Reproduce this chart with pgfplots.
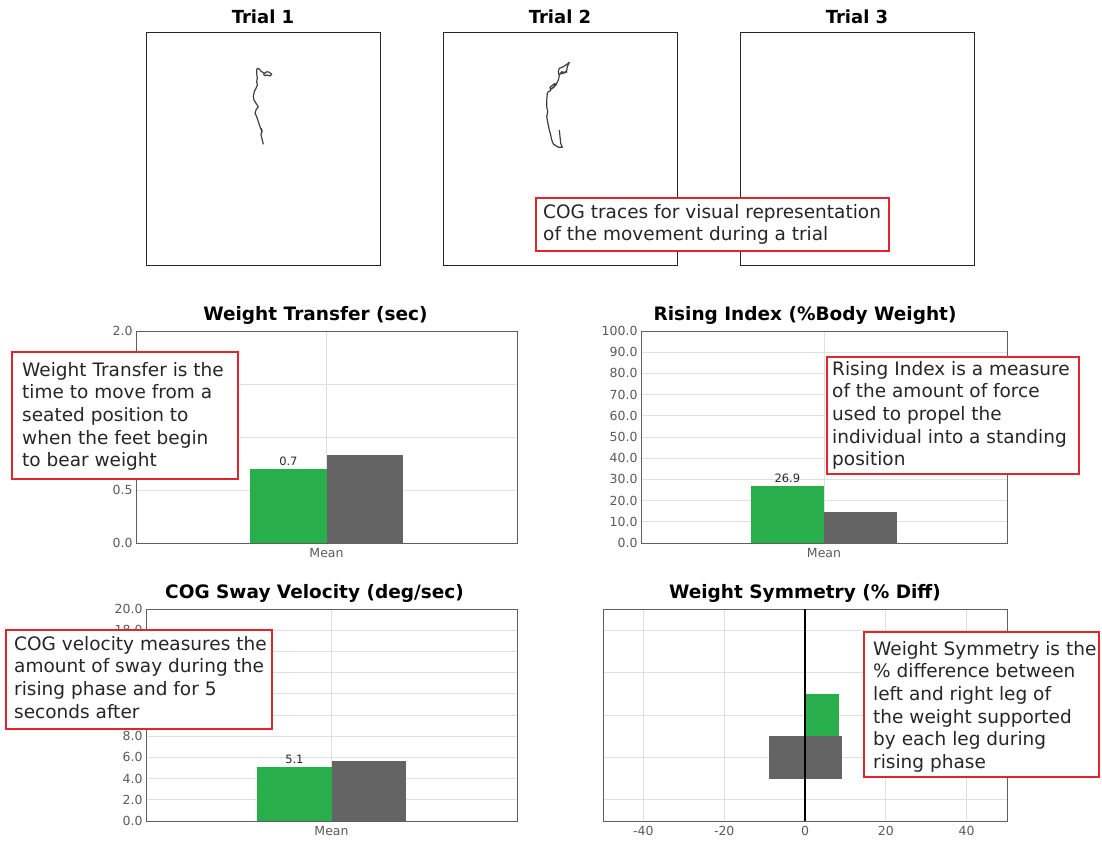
\documentclass[border=0pt]{standalone}
\usepackage{fontspec}
\setmainfont{DejaVu Sans}
\usepackage{pgfplots}
\pgfplotsset{compat=1.18}

\definecolor{barg}{RGB}{40,174,74}
\definecolor{bard}{RGB}{100,100,100}
\definecolor{annred}{RGB}{222,38,44}
\definecolor{gridc}{RGB}{224,224,224}
\definecolor{tickc}{RGB}{90,90,90}
\definecolor{framec}{RGB}{95,95,95}

\pgfplotsset{
  panel/.style={
    scale only axis,
    axis line style={framec, line width=0.9pt},
    tick style={draw=none},
    tick label style={font=\fontsize{12.5}{14}\selectfont, text=tickc},
    x tick label style={yshift=-2pt},
    /pgf/number format/assume math mode=true,
    grid style={gridc, line width=0.9pt},
    title style={font=\fontsize{18.5}{20}\selectfont\bfseries, at={(0.5,1)}, anchor=base, yshift=4.5pt},
  },
  barpanel/.style={
    panel, height=212pt, xmin=-1, xmax=1, ymin=0,
    xtick={0}, xticklabels={Mean}, xmajorgrids, ymajorgrids,
    y tick label style={/pgf/number format/fixed, /pgf/number format/fixed zerofill, /pgf/number format/precision=1},
  },
  trial/.style={
    scale only axis, width=234pt, height=233pt,
    axis line style={black!85, line width=0.9pt},
    xtick=\empty, ytick=\empty, ymin=-265, ymax=-32,
    title style={font=\fontsize{18}{20}\selectfont\bfseries, at={(0.5,1)}, anchor=base, yshift=2.5pt},
  },
  trace/.style={black!75, line width=1.2pt, line join=round, mark=none},
  greenbar/.style={ybar, bar width=0.4, bar shift=0, fill=barg, draw=none,
    nodes near coords, nodes near coords style={font=\fontsize{11.5}{13}\selectfont, text=black!85,
    /pgf/number format/fixed, /pgf/number format/fixed zerofill, /pgf/number format/precision=1}},
  graybar/.style={ybar, bar width=0.4, bar shift=0, fill=bard, draw=none},
}

\newcommand{\annot}[7]{%
  \draw[annred, line width=2pt, fill=white] (#1pt,-#2pt) rectangle (#3pt,-#4pt);
  \node[anchor=north west, inner sep=0pt, align=left, text=black!85,
        font=\fontsize{18.5}{22.6}\selectfont] at (#5pt,-#6pt) {#7};
}

\begin{document}
\begin{tikzpicture}
\path[use as bounding box] (0pt,0pt) rectangle (1102pt,-840pt);

% COG traces
\begin{axis}[trial, at={(146pt,-265pt)}, anchor=south west, xmin=146, xmax=380, title={Trial 1}]
\addplot[trace] coordinates {
(263.3,-74) (265,-75.7) (267.3,-75) (270,-76) (271.7,-74.3) (269.3,-72.3) (266.7,-71.7)
(265,-73.3) (262.7,-72.3) (260.7,-71) (259.3,-69) (257.3,-68.3) (256.7,-70) (256.7,-73.3)
(257.3,-78.3) (256.7,-81.7) (257.3,-85) (256,-88.3) (254.3,-91.7) (253.3,-96.7) (254,-100)
(256.7,-104.3) (258.3,-106.7) (256,-110) (255,-113.3) (256.7,-116.7) (258.3,-121.7)
(260,-126.7) (261.7,-131) (261,-135) (262.3,-140) (263.3,-144.3)};
\addplot[trace] coordinates {(261.3,-128) (262,-131) (261.5,-134)};
\end{axis}

\begin{axis}[trial, at={(443pt,-265pt)}, anchor=south west, xmin=443, xmax=677, title={Trial 2}]
\addplot[trace] coordinates {
(567.3,-71.7) (565,-72.7) (561.7,-71.7) (560,-74) (563.3,-73.3) (566.7,-70.7) (567.3,-66.7)
(569.3,-62.3) (567.3,-64) (563.3,-66.7) (559.3,-68.3) (558.3,-71.7) (559.3,-76) (558.3,-80)
(556,-85) (550.7,-89.3) (554,-87.3) (555,-83.3) (550,-87.3) (550.7,-90.7) (548.3,-91.7)
(547.3,-93.3) (546.7,-100) (546.7,-106.7) (547.7,-111.7) (546.7,-116.7) (547.3,-120)
(548.3,-125) (549.3,-130) (550.7,-135) (551.7,-140) (553.3,-144) (558.3,-147.3)
(562.3,-147.3) (560.7,-143.3) (559.3,-130)};
\end{axis}

\begin{axis}[trial, at={(740pt,-265pt)}, anchor=south west, xmin=740, xmax=974, title={Trial 3}]
\end{axis}

% Weight Transfer (labels 1.0 and 1.5 sit under the note box)
\begin{axis}[barpanel, at={(136pt,-543pt)}, anchor=south west, width=381pt,
  ymax=2, ytick={0,0.5,...,2}, yticklabels={0.0,0.5,,,2.0},
  title={Weight Transfer (sec)}, title style={xshift=-11pt}]
\addplot[greenbar] coordinates {(-0.2,0.7)};
\addplot[graybar] coordinates {(0.2,0.83)};
\end{axis}

% Rising Index
\begin{axis}[barpanel, at={(641pt,-543pt)}, anchor=south west, width=366pt,
  ymax=100, ytick={0,10,...,100}, title={Rising Index (\%Body Weight)}, title style={xshift=-19pt}]
\addplot[greenbar] coordinates {(-0.2,26.9)};
\addplot[graybar] coordinates {(0.2,14.5)};
\end{axis}

% COG Sway Velocity (labels 10-16 sit under the note box)
\begin{axis}[barpanel, at={(146pt,-821pt)}, anchor=south west, width=371pt,
  ymax=20, ytick={0,2,...,20}, yticklabels={0.0,2.0,4.0,6.0,8.0,,,,,18.0,20.0},
  title={COG Sway Velocity (deg/sec)}, title style={xshift=-17pt}]
\addplot[greenbar] coordinates {(-0.2,5.1)};
\addplot[graybar] coordinates {(0.2,5.65)};
\end{axis}

% Weight Symmetry
\begin{axis}[panel, at={(603pt,-821pt)}, anchor=south west, width=404pt, height=212pt,
  xmin=-50, xmax=50, ymin=0, ymax=5, xtick={-40,-20,...,40},
  ytick={0.5,1.5,...,4.5}, yticklabel=\empty, xmajorgrids, ymajorgrids,
  title={Weight Symmetry (\% Diff)}]
\addplot[xbar, bar width=1, bar shift=0, fill=bard, draw=none] coordinates {(9.2,1.5)};
\addplot[xbar, bar width=1, bar shift=0, fill=bard, draw=none] coordinates {(-9,1.5)};
\addplot[xbar, bar width=1, bar shift=0, fill=barg, draw=none] coordinates {(8.3,2.5)};
\addplot[black, line width=1.6pt, mark=none] coordinates {(0,0) (0,5)};
\end{axis}

% annotations
\annot{536}{198}{889}{251}{543}{204}{COG traces for visual representation\\of the movement during a trial}
\annot{12}{352}{238}{479}{22}{362}{Weight Transfer is the\\time to move from a\\seated position to\\when the feet begin\\to bear weight}
\annot{827}{357}{1079}{474}{832}{361}{Rising Index is a measure\\of the amount of force\\used to propel the\\individual into a standing\\position}
\annot{6}{630}{272}{729}{14}{636}{COG velocity measures the\\amount of sway during the\\rising phase and for 5\\seconds after}
\annot{864}{632}{1099}{777}{873}{641}{Weight Symmetry is the\\\% difference between\\left and right leg of\\the weight supported\\by each leg during\\rising phase}
\end{tikzpicture}
\end{document}
